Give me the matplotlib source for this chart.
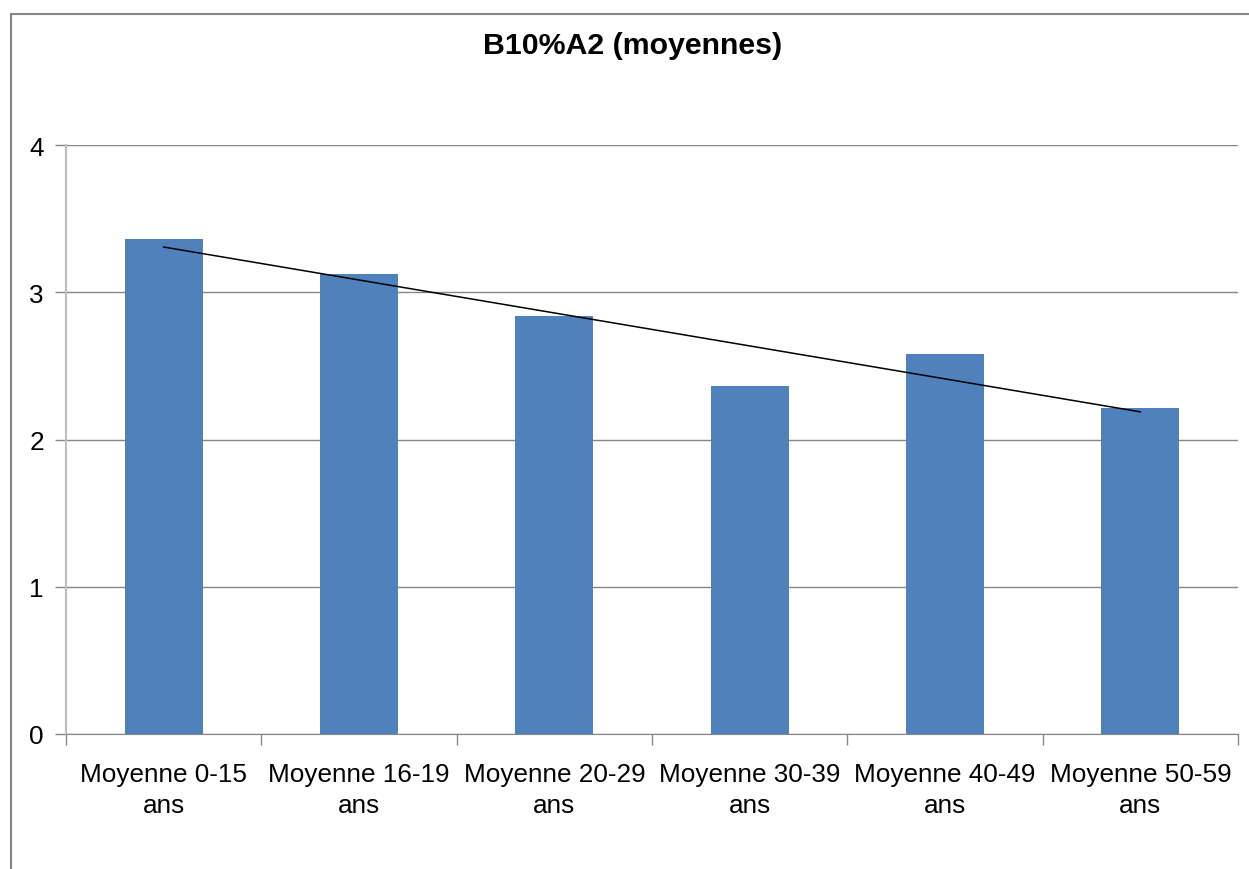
import matplotlib
matplotlib.use("Agg")
import matplotlib.pyplot as plt
import numpy as np
from matplotlib.patches import Rectangle

## ------------------------------- ##
categories = ["Moyenne 0-15\nans", "Moyenne 16-19\nans", "Moyenne 20-29\nans",
              "Moyenne 30-39\nans", "Moyenne 40-49\nans", "Moyenne 50-59\nans"]
values = [3.36, 3.125, 2.84, 2.365, 2.58, 2.215]
yticks = [0, 1, 2, 3, 4]
title = "B10%A2 (moyennes)"
## ------------------------------- ##

plt.rcParams['font.family'] = ['Liberation Sans', 'DejaVu Sans']

W, H = 1249, 870
fig = plt.figure(figsize=(W / 100, H / 100), dpi=100)
ax = fig.add_axes([66 / W, 1 - 735 / H, (1238 - 66) / W, (735 - 146) / H])

x = np.arange(len(values))
ax.bar(x, values, width=0.4, color="#4F81BD", zorder=3)

# linear trend line (Excel style)
slope, intercept = np.polyfit(x, values, 1)
ax.plot(x, slope * x + intercept, color="black", lw=1.1, zorder=4)

ax.set_xlim(-0.5, len(values) - 0.5)
ax.set_ylim(0, 4)
ax.set_yticks(yticks)
ax.set_yticklabels([str(t) for t in yticks], fontsize=18.8)
ax.yaxis.grid(True, color="#868686", lw=1, zorder=0)
ax.set_xticks(x)
ax.set_xticklabels(categories, fontsize=18.8, linespacing=1.4)
ax.set_xticks(np.arange(len(values) + 1) - 0.5, minor=True)
ax.tick_params(axis='x', which='major', length=0, pad=20)
ax.tick_params(axis='x', which='minor', length=8, color="#868686", width=1)
ax.tick_params(axis='y', length=8, color="#868686", width=1, pad=8)

for s in ["top", "right"]:
    ax.spines[s].set_visible(False)
ax.spines["left"].set_color("#BFBFBF")
ax.spines["left"].set_linewidth(1.5)
ax.spines["bottom"].set_color("#868686")

# chart frame
fig.patches.append(Rectangle((10.5 / W, -0.1), 1.2, 1 - 14.5 / H + 0.1,
                             transform=fig.transFigure, fill=False,
                             edgecolor="#868686", lw=1.5))

fig.text(633 / W, 1 - 46 / H, title, ha="center", va="center",
         fontsize=21.8, fontweight="bold")

fig.savefig("out.png", dpi=100)
